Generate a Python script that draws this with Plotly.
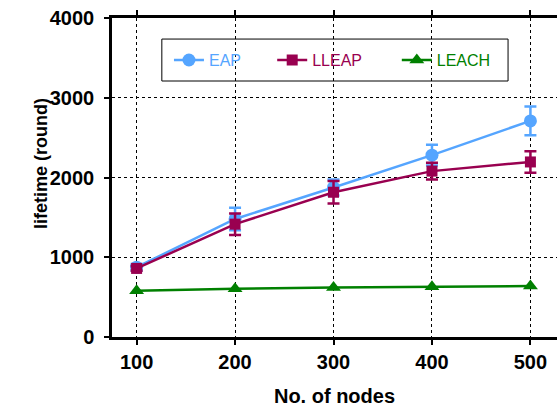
import plotly.graph_objects as go

nodes = [100, 200, 300, 400, 500]
eap = [875, 1480, 1875, 2280, 2710]
eap_err = [40, 140, 100, 130, 180]
lleap = [860, 1415, 1815, 2080, 2195]
lleap_err = [30, 135, 140, 105, 135]
leach = [580, 605, 620, 630, 640]

x_ticks = [100, 200, 300, 400, 500]
y_ticks = [0, 1000, 2000, 3000, 4000]

C_EAP = "#55a5ff"
C_LLEAP = "#990050"
C_LEACH = "#008000"

FONT = "Liberation Sans, Arial, sans-serif"

fig = go.Figure()
fig.add_trace(go.Scatter(
    x=nodes, y=eap, mode="lines+markers",
    name=f"<span style='color:{C_EAP}'>EAP</span>", legend="legend",
    line=dict(color=C_EAP, width=2.5),
    marker=dict(symbol="circle", size=13, color=C_EAP),
    error_y=dict(type="data", array=eap_err, color=C_EAP, thickness=2.5, width=6),
))
fig.add_trace(go.Scatter(
    x=nodes, y=lleap, mode="lines+markers",
    name=f"<span style='color:{C_LLEAP}'>LLEAP</span>", legend="legend2",
    line=dict(color=C_LLEAP, width=2.5),
    marker=dict(symbol="square", size=11, color=C_LLEAP),
    error_y=dict(type="data", array=lleap_err, color=C_LLEAP, thickness=2.5, width=6),
))
fig.add_trace(go.Scatter(
    x=nodes, y=leach, mode="lines+markers",
    name=f"<span style='color:{C_LEACH}'>LEACH</span>", legend="legend3",
    line=dict(color=C_LEACH, width=2.5),
    marker=dict(symbol="triangle-up", size=13, color=C_LEACH),
))

leg_common = dict(
    orientation="h", y=0.868, xanchor="left", yanchor="middle",
    bgcolor="rgba(0,0,0,0)", borderwidth=0,
    font=dict(family=FONT, size=16),
)

fig.update_layout(
    width=557, height=408,
    margin=dict(l=112, r=0, t=18, b=71),
    paper_bgcolor="white", plot_bgcolor="white",
    font=dict(family=FONT, color="black"),
    showlegend=True,
    legend=dict(x=0.128, **leg_common),
    legend2=dict(x=0.360, **leg_common),
    legend3=dict(x=0.640, **leg_common),
    shapes=[dict(
        type="rect", xref="paper", yref="paper",
        x0=0.112, x1=0.890, y0=0.8025, y1=0.934,
        line=dict(color="black", width=1), fillcolor="rgba(0,0,0,0)",
    )],
    xaxis=dict(
        range=[75, 527], tickvals=x_ticks, ticks="outside", ticklen=5, tickwidth=2,
        tickcolor="black", showline=True, linecolor="black", linewidth=2.5,
        mirror="ticks", showgrid=True, gridcolor="black", griddash="dot", gridwidth=1,
        zeroline=False,
        tickfont=dict(family=FONT, size=20, weight="bold"),
        title=dict(text="No. of nodes", font=dict(family=FONT, size=20, weight="bold"), standoff=18),
    ),
    yaxis=dict(
        range=[0, 4000], tickvals=y_ticks, ticks="outside", ticklen=5, tickwidth=2,
        tickcolor="black", showline=True, linecolor="black", linewidth=2.5,
        mirror=False, showgrid=True, gridcolor="black", griddash="dot", gridwidth=1,
        zeroline=False, ticklabelstandoff=6,
        tickfont=dict(family=FONT, size=20, weight="bold"),
    ),
    annotations=[dict(
        text="lifetime (round)", textangle=-90, xref="paper", yref="paper",
        x=-0.16, y=0.545, xanchor="center", yanchor="middle", showarrow=False,
        font=dict(family=FONT, size=18, weight="bold"),
    )],
)

fig.write_html("out.html")
